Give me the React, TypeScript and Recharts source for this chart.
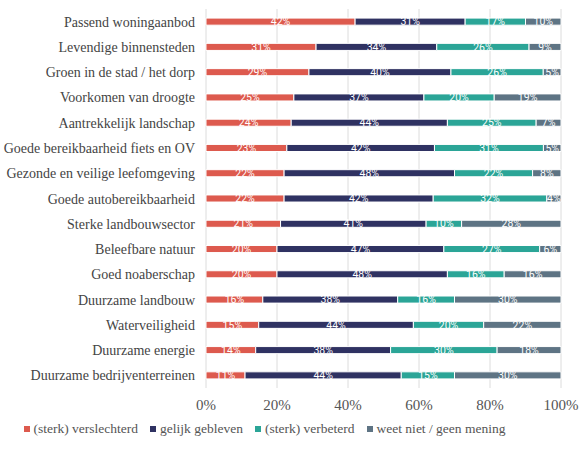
import { BarChart, Bar, XAxis, YAxis, CartesianGrid, Legend, LabelList } from 'recharts';

const categories = [
  'Passend woningaanbod',
  'Levendige binnensteden',
  'Groen in de stad / het dorp',
  'Voorkomen van droogte',
  'Aantrekkelijk landschap',
  'Goede bereikbaarheid fiets en OV',
  'Gezonde en veilige leefomgeving',
  'Goede autobereikbaarheid',
  'Sterke landbouwsector',
  'Beleefbare natuur',
  'Goed noaberschap',
  'Duurzame landbouw',
  'Waterveiligheid',
  'Duurzame energie',
  'Duurzame bedrijventerreinen',
];

const verslechterd = [42, 31, 29, 25, 24, 23, 22, 22, 21, 20, 20, 16, 15, 14, 11];
const gelijk = [31, 34, 40, 37, 44, 42, 48, 42, 41, 47, 48, 38, 44, 38, 44];
const verbeterd = [17, 26, 26, 20, 25, 31, 22, 32, 10, 27, 16, 16, 20, 30, 15];
const weetNiet = [10, 9, 5, 19, 7, 5, 8, 4, 28, 6, 16, 30, 22, 18, 30];

const xTicks = [0, 0.2, 0.4, 0.6, 0.8, 1];

const data = categories.map((name, i) => ({
  name,
  verslechterd: verslechterd[i],
  gelijk: gelijk[i],
  verbeterd: verbeterd[i],
  weetNiet: weetNiet[i],
}));

const series = [
  { key: 'verslechterd', label: '(sterk) verslechterd', color: '#dd5a4e' },
  { key: 'gelijk', label: 'gelijk gebleven', color: '#2f3262' },
  { key: 'verbeterd', label: '(sterk) verbeterd', color: '#2ba597' },
  { key: 'weetNiet', label: 'weet niet / geen mening', color: '#5e7484' },
];

const serif = '"Liberation Serif", "DejaVu Serif", serif';

function CategoryTick(props: any) {
  const { y, payload } = props;
  // labels right-aligned a bit left of the plot
  return (
    <text x={195} y={y} dy={5} textAnchor="end" fill="#444" fontSize={14} fontFamily={serif}>
      {payload.value}
    </text>
  );
}

function LegendContent() {
  return (
    <div
      style={{
        display: 'flex',
        justifyContent: 'center',
        gap: 12,
        fontFamily: serif,
        fontSize: 13.5,
        color: '#555',
        paddingRight: 32,
        paddingTop: 5,
        whiteSpace: 'nowrap',
      }}
    >
      {series.map((s) => (
        <span key={s.key} style={{ display: 'flex', alignItems: 'center', flexShrink: 0 }}>
          <span style={{ width: 6, height: 6, background: s.color, marginRight: 4, display: 'inline-block' }} />
          {s.label}
        </span>
      ))}
    </div>
  );
}

export default function App() {
  return (
    <div style={{ position: 'absolute', left: 0, top: 0, background: '#fff' }}>
      <BarChart
        width={585}
        height={450}
        data={data}
        layout="vertical"
        stackOffset="expand"
        barCategoryGap="64%"
        margin={{ top: 9, right: 24, left: 0, bottom: 4 }}
      >
        <CartesianGrid horizontal={false} stroke="#dcdcdc" />
        <XAxis
          type="number"
          domain={[0, 1]}
          ticks={xTicks}
          tickFormatter={(v: number) => `${Math.round(v * 100)}%`}
          axisLine={false}
          tickLine={false}
          tickMargin={5}
          height={28}
          tick={{ fill: '#555', fontSize: 15, fontFamily: serif }}
        />
        <YAxis
          type="category"
          dataKey="name"
          width={206}
          axisLine={false}
          tickLine={false}
          interval={0}
          tick={<CategoryTick />}
        />
        <Legend verticalAlign="bottom" height={30} content={<LegendContent />} />
        {series.map((s) => (
          <Bar
            key={s.key}
            dataKey={s.key}
            name={s.label}
            stackId="a"
            fill={s.color}
            stroke="#fff"
            strokeWidth={1}
            isAnimationActive={false}
          >
            <LabelList
              dataKey={s.key}
              position="center"
              formatter={(v: number) => `${v}%`}
              fill="#fff"
              fontSize={10.5}
              fontFamily="Roboto, sans-serif"
            />
          </Bar>
        ))}
      </BarChart>
    </div>
  );
}
